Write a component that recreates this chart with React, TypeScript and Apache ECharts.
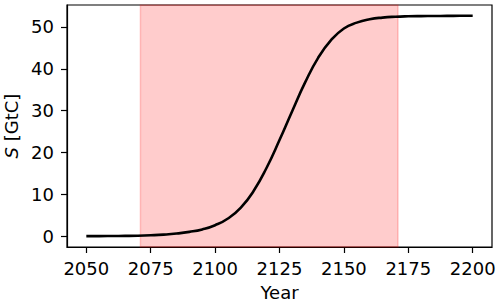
import React, { useEffect, useRef } from "react";
import * as echarts from "echarts";

const years = [
  2050, 2055, 2060, 2065, 2070, 2075, 2080, 2085, 2090, 2095, 2100, 2105, 2110, 2115, 2120, 2125,
  2130, 2135, 2140, 2145, 2150, 2155, 2160, 2165, 2170, 2175, 2180, 2185, 2190, 2195, 2200,
];
const storage = [
  0.1, 0.1, 0.12, 0.15, 0.2, 0.3, 0.45, 0.7, 1.1, 1.7, 2.7, 4.3, 6.9, 10.9, 16.4, 23.0,
  30.0, 36.8, 42.6, 46.8, 49.6, 51.0, 51.8, 52.2, 52.4, 52.5, 52.55, 52.58, 52.6, 52.62, 52.63,
];
const xTicks = [2050, 2075, 2100, 2125, 2150, 2175, 2200];
const yTicks = [0, 10, 20, 30, 40, 50];
const shadeStart = 2071;
const shadeEnd = 2171;

const FONT = "DejaVu Sans";
const FS = 18;

export default function App() {
  const ref = useRef<HTMLDivElement>(null);
  useEffect(() => {
    if (!ref.current) return;
    const chart = echarts.init(ref.current, undefined, { renderer: "svg" });
    chart.setOption({
      animation: false,
      backgroundColor: "#fff",
      textStyle: { fontFamily: FONT },
      grid: {
        left: 67,
        right: 8,
        top: 5,
        bottom: 59,
        show: true,
        borderColor: "#000",
        borderWidth: 1.2,
        backgroundColor: "transparent",
        outerBoundsMode: "none",
      },
      xAxis: {
        type: "value",
        min: 2042.5,
        max: 2207.5,
        name: "Year",
        nameLocation: "middle",
        nameGap: 36,
        nameTextStyle: { fontFamily: FONT, fontSize: FS, color: "#000" },
        axisLine: { show: true, onZero: false, lineStyle: { color: "#000", width: 1.2 } },
        axisTick: { show: true, length: 6, lineStyle: { color: "#000", width: 1.2 }, customValues: xTicks },
        axisLabel: {
          fontFamily: FONT,
          fontSize: FS,
          color: "#000",
          margin: 12,
          customValues: xTicks,
          formatter: (v: number) => String(v),
        },
        splitLine: { show: false },
      },
      yAxis: {
        type: "value",
        min: -2.5,
        max: 55.2,
        name: "{i|S} [GtC]",
        nameLocation: "middle",
        nameRotate: 90,
        nameGap: 45,
        nameTextStyle: {
          fontFamily: FONT,
          fontSize: FS,
          color: "#000",
          rich: { i: { fontStyle: "italic", fontFamily: FONT, fontSize: FS, color: "#000" } },
        },
        axisLine: { show: true, onZero: false, lineStyle: { color: "#000", width: 1.2 } },
        axisTick: { show: true, length: 6, lineStyle: { color: "#000", width: 1.2 }, customValues: yTicks },
        axisLabel: {
          fontFamily: FONT,
          fontSize: FS,
          color: "#000",
          margin: 13,
          customValues: yTicks,
          formatter: (v: number) => String(v),
        },
        splitLine: { show: false },
      },
      series: [
        {
          type: "line",
          data: years.map((y, i) => [y, storage[i]]),
          showSymbol: false,
          smooth: 0.5,
          lineStyle: { color: "#000", width: 2.6 },
          markArea: {
            silent: true,
            itemStyle: {
              color: "rgba(255,0,0,0.2)",
              borderColor: "rgba(255,0,0,0.2)",
              borderWidth: 1.5,
            },
            data: [[{ xAxis: shadeStart }, { xAxis: shadeEnd }]],
          },
        },
      ],
    });
    return () => chart.dispose();
  }, []);
  return (
    <div
      ref={ref}
      style={{ position: "absolute", left: 0, top: 0, width: 500, height: 306 }}
    />
  );
}
